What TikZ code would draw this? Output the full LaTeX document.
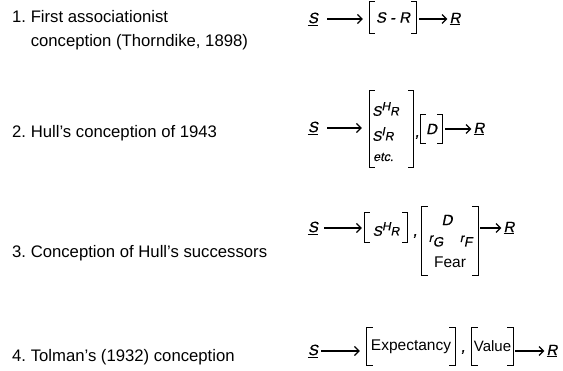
\documentclass[tikz,border=0pt]{standalone}
\usepackage{fontspec}
\setmainfont{Liberation Sans}
\newfontfamily\symfont[FakeSlant=0.2,FakeBold=0.6]{Liberation Sans}
\usetikzlibrary{arrows.meta}
\newcommand\fsz[1]{\fontsize{#1}{#1}\selectfont}
\newcommand\hullsym[1]{{\symfont\fsz{14}S\raisebox{5.5pt}{\fsz{12}#1}\raisebox{0.5pt}{\fsz{12}R}}}
\newcommand\drawbrk[2]{%
  \draw[bk] ([xshift=#2]#1.north west) -- (#1.north west) -- (#1.south west) -- ([xshift=#2]#1.south west);
  \draw[bk] ([xshift=-#2]#1.north east) -- (#1.north east) -- (#1.south east) -- ([xshift=-#2]#1.south east);}
\begin{document}
\begin{tikzpicture}[x=1pt,y=-1pt,
  lab/.style={anchor=west, inner sep=0pt, font=\fsz{16.7}, align=left},
  sym/.style={inner sep=0pt, font=\symfont\fsz{15}},
  box/.style={inner sep=0pt},
  arr/.style={-{Straight Barb[length=4.5pt,width=9pt]}, line width=1.2pt},
  bk/.style={line width=1.3pt}]
\useasboundingbox (0,0) rectangle (563,370);

% left labels
\node[lab, font=\fontsize{16.7}{24}\selectfont] (l1) at (12,30) {1.\ First associationist\\\phantom{1.\ }conception (Thorndike, 1898)};
\node[lab] (l2) at (12,133) {2.\ Hull’s conception of 1943};
\node[lab] (l3) at (12,253) {3.\ Conception of Hull’s successors};
\node[lab] (l4) at (12,357) {4.\ Tolman’s (1932) conception};

% row 1
\node[sym] (s1) at (313,19) {\underline{S}};
\node[sym, minimum width=46pt, minimum height=31pt] (b1) at (393,17.5) {S - R};
\node[sym] (r1) at (455,19) {\underline{R}};
\drawbrk{b1}{5pt}
\draw[arr, shorten <=9pt, shorten >=7pt] (s1.east) -- (s1.east -| b1.west);
\draw[arr, shorten <=3pt, shorten >=2pt] (b1.east |- r1.west) -- (r1.west);

% row 2
\node[sym] (s2) at (313,128) {\underline{S}};
\node[box, minimum width=43pt, minimum height=76pt] (b2) at (391.5,129) {};
\node[anchor=west, inner sep=0pt] (h2) at (372,109) {\hullsym{H}};
\node[anchor=west, inner sep=0pt] (i2) at (372,134) {\hullsym{I}};
\node[sym, anchor=west, font=\symfont\fsz{12.5}] (e2) at (373,157) {etc.};
\drawbrk{b2}{5pt}
\node[sym] (c2) at (417,137) {,};
\node[sym, minimum width=21pt, minimum height=28pt] (d2) at (431.5,129) {D};
\drawbrk{d2}{5pt}
\node[sym] (r2) at (479,129) {\underline{R}};
\draw[arr, shorten <=9pt, shorten >=8pt] (s2.east) -- (s2.east -| b2.west);
\draw[arr, shorten <=3pt, shorten >=2pt] (d2.east |- r2.west) -- (r2.west);

% row 3
\node[sym] (s3) at (313,228) {\underline{S}};
\node[box, minimum width=42pt, minimum height=29pt] (b3a) at (386,227.5) {};
\node[inner sep=0pt] (h3) at (386,229) {\hullsym{H}};
\drawbrk{b3a}{5pt}
\node[sym] (c3) at (415,236) {,};
\node[box, minimum width=56pt, minimum height=68pt] (b3b) at (450,241) {};
\node[sym] (d3) at (447,220) {D};
\node[inner sep=0pt] (rg) at (436,241) {\symfont\raisebox{2.5pt}{\fsz{12}r}\raisebox{-2pt}{\fsz{13.5}G}};
\node[inner sep=0pt] (rf) at (466,241) {\symfont\raisebox{2.5pt}{\fsz{12}r}\raisebox{-2pt}{\fsz{13.5}F}};
\node[inner sep=0pt, font=\fsz{15.5}] (fear) at (450,262) {Fear};
\drawbrk{b3b}{6pt}
\node[sym] (r3) at (509,228) {\underline{R}};
\draw[arr, shorten <=6pt, shorten >=3pt] (s3.east) -- (s3.east -| b3a.west);
\draw[arr, shorten <=2pt, shorten >=2pt] (b3b.east |- r3.west) -- (r3.west);

% row 4
\node[sym] (s4) at (313,351) {\underline{S}};
\node[box, minimum width=88pt, minimum height=37pt, font=\fsz{15.5}] (b4a) at (411,346.5) {Expectancy};
\drawbrk{b4a}{6pt}
\node[sym] (c4) at (463,352) {,};
\node[box, minimum width=41pt, minimum height=37pt, font=\fsz{15}] (b4b) at (492.5,346.5) {Value};
\drawbrk{b4b}{6pt}
\node[sym] (r4) at (552,351) {\underline{R}};
\draw[arr, shorten <=3pt, shorten >=7pt] (s4.east) -- (s4.east -| b4a.west);
\draw[arr, shorten <=2pt, shorten >=2pt] (b4b.east |- r4.west) -- (r4.west);
\end{tikzpicture}
\end{document}
